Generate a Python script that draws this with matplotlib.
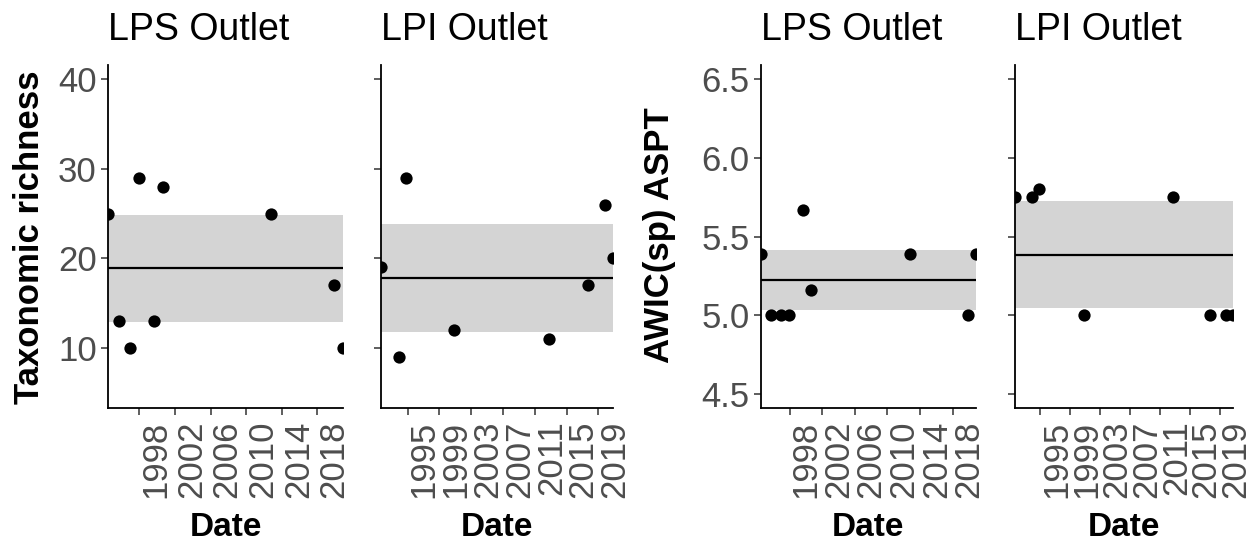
import matplotlib
matplotlib.use("Agg")
import matplotlib.pyplot as plt
import pandas as pd

plt.rcParams['font.family'] = ['Liberation Sans', 'DejaVu Sans']

# ---- data ----
lps_dates = ["1994-06-20", "1995-10-01", "1996-12-15", "1997-11-25", "1999-08-25",
             "2000-08-25", "2012-10-20", "2019-11-05", "2020-11-15"]
lps_richness = [25, 13, 10, 29, 13, 28, 25, 17, 10]
lps_aspt = [5.39, 5.0, 5.0, 5.0, 5.67, 5.16, 5.39, 5.0, 5.39]

lpi_dates = ["1991-08-10", "1993-11-20", "1994-11-05", "2000-11-05", "2012-10-20",
             "2017-10-01", "2019-11-05", "2020-11-05"]
lpi_richness = [19, 9, 29, 12, 11, 17, 26, 20]
lpi_aspt = [5.75, 5.75, 5.80, 5.0, 5.75, 5.0, 5.0, 5.0]

# model fit (mean, lower, upper)
fit_lps_richness = (18.9, 12.9, 24.8)
fit_lpi_richness = (17.85, 11.8, 23.9)
fit_lps_aspt = (5.223, 5.036, 5.415)
fit_lpi_aspt = (5.383, 5.043, 5.723)

lps_tick_years = ["1998", "2002", "2006", "2010", "2014", "2018"]
lpi_tick_years = ["1995", "1999", "2003", "2007", "2011", "2015", "2019"]

richness_ticks = [10, 20, 30, 40]
aspt_ticks = [4.5, 5.0, 5.5, 6.0, 6.5]
aspt_ticklabels = ["4.5", "5.0", "5.5", "6.0", "6.5"]
richness_lim = (3.3, 41.6)
aspt_lim = (4.41, 6.59)

site_titles = ["LPS Outlet", "LPI Outlet"]

# ---- layout ----
W, H = 1258, 543
fig = plt.figure(figsize=(W / 100, H / 100), dpi=100)
top_px, bot_px = 65, 408
panels_px = [(108, 235), (380.7, 232.3), (760.7, 215.3), (1015, 218.3)]

GRAY = "#4D4D4D"
TICK_FS = 25
TITLE_FS = 27
LAB_FS = 25


def make_ax(px):
    l, w = px
    return fig.add_axes([l / W, (H - bot_px) / H, w / W, (bot_px - top_px) / H])


def draw(ax, dates, vals, fit, ticks_years, ylim, yticks, ylabels, show_ylabels, title):
    d = pd.to_datetime(dates)
    xmin, xmax = d.min(), d.max()
    mean, lo, hi = fit
    ax.fill_between([xmin, xmax], [lo, lo], [hi, hi], color="#D4D4D4", lw=0, zorder=1)
    ax.plot([xmin, xmax], [mean, mean], color="black", lw=1.6, zorder=2)
    ax.scatter(d, vals, s=78, color="black", zorder=3, linewidths=0)
    ax.set_xlim(xmin, xmax)
    ax.set_ylim(*ylim)
    ax.set_yticks(yticks)
    if show_ylabels:
        ax.set_yticklabels(ylabels, fontsize=TICK_FS, color=GRAY)
    else:
        ax.set_yticklabels([])
    tick_pos = pd.to_datetime([y + "-01-01" for y in ticks_years])
    ax.set_xticks(tick_pos)
    ax.set_xticklabels(ticks_years, fontsize=TICK_FS, color=GRAY, rotation=90,
                       rotation_mode="anchor", ha="right", va="top")
    for s in ["top", "right"]:
        ax.spines[s].set_visible(False)
    for s in ["left", "bottom"]:
        ax.spines[s].set_linewidth(1.3)
        ax.spines[s].set_color("black")
    ax.tick_params(axis="both", length=5, width=1.1, color="#333333", pad=3)
    ax.tick_params(axis="x", pad=4)
    ax.set_title(title, loc="left", fontsize=TITLE_FS, pad=18, color="black")
    ax.set_facecolor("white")


axes = [make_ax(p) for p in panels_px]
draw(axes[0], lps_dates, lps_richness, fit_lps_richness, lps_tick_years, richness_lim,
     richness_ticks, [str(t) for t in richness_ticks], True, site_titles[0])
draw(axes[1], lpi_dates, lpi_richness, fit_lpi_richness, lpi_tick_years, richness_lim,
     richness_ticks, [str(t) for t in richness_ticks], False, site_titles[1])
draw(axes[2], lps_dates, lps_aspt, fit_lps_aspt, lps_tick_years, aspt_lim,
     aspt_ticks, aspt_ticklabels, True, site_titles[0])
draw(axes[3], lpi_dates, lpi_aspt, fit_lpi_aspt, lpi_tick_years, aspt_lim,
     aspt_ticks, aspt_ticklabels, False, site_titles[1])

# axis titles
fig.text(30 / W, (H - 237) / H, "Taxonomic richness", rotation=90, fontsize=LAB_FS,
         fontweight="bold", ha="center", va="center")
fig.text(660 / W, (H - 235) / H, "AWIC(sp) ASPT", rotation=90, fontsize=LAB_FS,
         fontweight="bold", ha="center", va="center")
for l, w in panels_px:
    fig.text((l + w / 2) / W, (H - 527) / H, "Date", fontsize=24,
             fontweight="bold", ha="center", va="center")

fig.savefig("out.png", dpi=100, facecolor="white")
